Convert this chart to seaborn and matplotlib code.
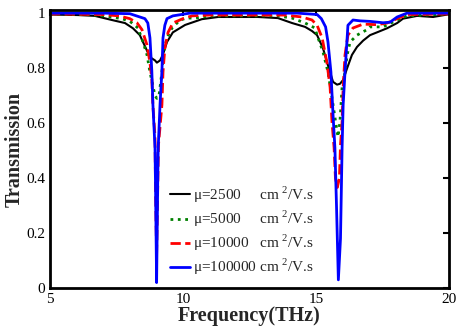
import matplotlib
matplotlib.use("Agg")
import matplotlib.pyplot as plt
import seaborn as sns
import pandas as pd

# values (frequency in THz, transmission)
freq_2500 = [5.0, 6.05, 6.69, 7.33, 7.82, 8.12, 8.38, 8.57, 8.76, 8.95, 9.02, 9.14,
             9.25, 9.40, 9.62, 10.08, 10.71, 11.32, 12.82, 13.57, 14.10, 14.59, 14.85,
             15.04, 15.26, 15.45, 15.64, 15.79, 15.90, 16.02, 16.17, 16.35, 16.54,
             16.77, 17.03, 17.29, 17.67, 18.05, 18.27, 18.80, 19.40, 20.0]
trans_2500 = [0.995, 0.993, 0.99, 0.975, 0.964, 0.945, 0.92, 0.88, 0.84, 0.828, 0.82, 0.828,
              0.85, 0.895, 0.93, 0.957, 0.978, 0.986, 0.986, 0.982, 0.964, 0.95, 0.935,
              0.92, 0.873, 0.81, 0.75, 0.74, 0.743, 0.757, 0.80, 0.848, 0.877,
              0.90, 0.92, 0.93, 0.945, 0.964, 0.98, 0.99, 0.986, 0.996]

freq_5000 = [5.0, 6.5, 7.0, 7.7, 8.01, 8.31, 8.50, 8.65, 8.76, 8.95, 9.02, 9.10, 9.21,
             9.25, 9.40, 9.59, 9.89, 10.15, 10.45, 11.09, 13.57, 14.10, 14.59, 14.96,
             15.04, 15.26, 15.45, 15.64, 15.79, 15.83, 15.90, 15.98, 16.09, 16.17,
             16.28, 16.54, 16.92, 17.03, 17.52, 18.05, 18.42, 20.0]
trans_5000 = [0.996, 0.995, 0.99, 0.98, 0.97, 0.946, 0.895, 0.848, 0.786, 0.70, 0.69, 0.70, 0.786,
              0.848, 0.91, 0.946, 0.975, 0.982, 0.982, 0.99, 0.99, 0.982, 0.964, 0.946,
              0.92, 0.86, 0.786, 0.667, 0.57, 0.55, 0.605, 0.73, 0.786, 0.848,
              0.895, 0.92, 0.94, 0.95, 0.95, 0.975, 0.99, 0.997]

freq_10000 = [5.0, 7.0, 7.6, 8.0, 8.27, 8.46, 8.65, 8.76, 8.83, 8.87, 8.95, 8.97, 9.01,
              9.05, 9.08, 9.21, 9.25, 9.32, 9.44, 9.62, 10.0, 10.34, 11.0, 13.83, 14.47,
              14.85, 15.04, 15.23, 15.41, 15.53, 15.60, 15.68, 15.73, 15.80, 15.88,
              15.92, 15.98, 16.02, 16.09, 16.20, 16.39, 16.77, 17.29, 17.67, 18.05,
              18.42, 20.0]
trans_10000 = [0.997, 0.995, 0.99, 0.98, 0.965, 0.94, 0.884, 0.82, 0.76, 0.667, 0.55, 0.35, 0.12,
               0.35, 0.52, 0.667, 0.786, 0.873, 0.93, 0.964, 0.98, 0.99, 0.993, 0.993, 0.986,
               0.975, 0.956, 0.91, 0.82, 0.73, 0.605, 0.51, 0.40, 0.366, 0.40,
               0.52, 0.605, 0.73, 0.848, 0.92, 0.946, 0.96, 0.958, 0.964, 0.98,
               0.995, 0.997]

freq_100000 = [5.0, 7.0, 8.0, 8.57, 8.68, 8.76, 8.83, 8.87, 8.95, 8.97, 9.01, 9.05, 9.07,
               9.14, 9.21, 9.25, 9.32, 9.40, 9.62, 10.26, 12.0, 14.29, 15.04, 15.20, 15.36,
               15.45, 15.56, 15.64, 15.71, 15.77, 15.84, 15.92, 15.96, 15.98, 16.02, 16.09,
               16.17, 16.20, 16.39, 16.65, 17.03, 17.52, 17.78, 18.05, 18.42, 20.0]
trans_100000 = [1.0, 1.0, 0.998, 0.98, 0.964, 0.91, 0.79, 0.67, 0.51, 0.37, 0.02, 0.37, 0.51,
                0.67, 0.79, 0.91, 0.956, 0.98, 0.99, 1.0, 1.0, 1.0, 0.995, 0.98, 0.95,
                0.895, 0.786, 0.63, 0.51, 0.30, 0.03, 0.18, 0.40, 0.51, 0.667, 0.786,
                0.91, 0.956, 0.975, 0.972, 0.97, 0.965, 0.967, 0.986, 1.0, 1.0]

labels = ["μ=2500     cm $^{2}$/V.s",
          "μ=5000     cm $^{2}$/V.s",
          "μ=10000   cm $^{2}$/V.s",
          "μ=100000 cm $^{2}$/V.s"]

series = [(freq_2500, trans_2500), (freq_5000, trans_5000),
          (freq_10000, trans_10000), (freq_100000, trans_100000)]
colors = ["black", "#008000", "#ff0000", "#0000ff"]
styles = ["-", ":", "--", "-"]
widths = [1.5, 2.0, 2.0, 2.0]

sns.set_style("white")
plt.rcParams["font.family"] = ["Liberation Serif", "DejaVu Serif"]
plt.rcParams["mathtext.fontset"] = "custom"
plt.rcParams["mathtext.rm"] = "Liberation Serif"

fig = plt.figure(figsize=(4.62, 3.35), dpi=100)
ax = fig.add_axes([0.108, 0.140, 0.864, 0.829])

for (f, t), lab, c, ls, lw in zip(series, labels, colors, styles, widths):
    df = pd.DataFrame({"freq": f, "trans": t})
    sns.lineplot(data=df, x="freq", y="trans", ax=ax, color=c, linestyle=ls,
                 linewidth=lw, label=lab)

ax.set_xlim(5, 20)
ax.set_ylim(0, 1.01)
ax.set_xticks([5, 10, 15, 20])
ax.set_xticklabels(["5", "10", "15", "20"])
ax.set_yticks([0, 0.2, 0.4, 0.6, 0.8, 1.0])
ax.set_yticklabels(["0", "0.2", "0.4", "0.6", "0.8", "1"])
ax.tick_params(direction="in", top=True, right=True, length=4, width=1.5,
               labelsize=11, colors="black")
for s in ax.spines.values():
    s.set_linewidth(2)
    s.set_color("black")
ax.set_xlabel("Frequency(THz)", fontsize=14.5, fontweight="bold", labelpad=0)
ax.set_ylabel("Transmission", fontsize=14.5, fontweight="bold", labelpad=1)

ax.legend(loc="lower left", bbox_to_anchor=(0.267, -0.01), frameon=False,
          fontsize=11, handlelength=1.3, handletextpad=0.2, labelspacing=0.25)

fig.savefig("out.png", dpi=100)
